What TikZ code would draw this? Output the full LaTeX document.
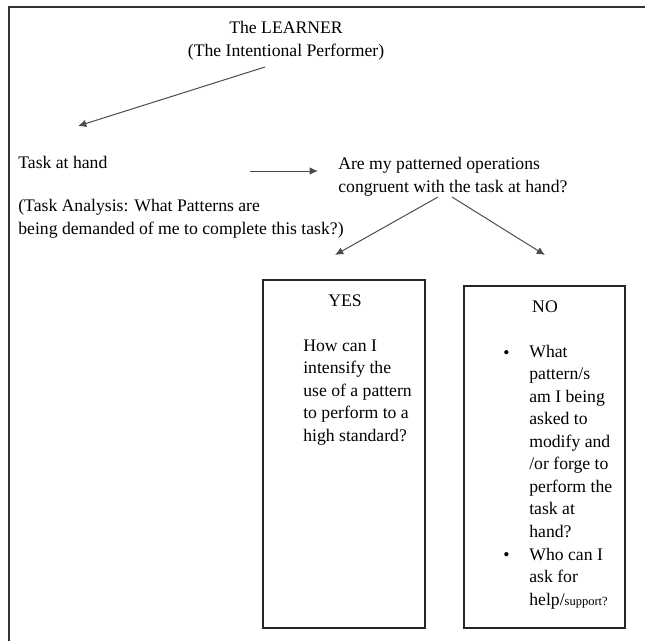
\documentclass[tikz,border=0pt]{standalone}
\usepackage{fontspec}
\setmainfont{Liberation Serif}
\usetikzlibrary{arrows.meta}
\begin{document}
\begin{tikzpicture}[x=0.6pt,y=-0.6pt,
  txt/.style={inner sep=0pt, anchor=base west, align=left, font=\fontsize{10.6}{13.5}\selectfont},
  ctr/.style={inner sep=0pt, anchor=base, align=center, font=\fontsize{10.6}{13.5}\selectfont},
  panel/.style={draw=black!85, line width=0.8pt, inner sep=0pt},
  arr/.style={draw=black!70, line width=0.6pt, -{Latex[length=5pt,width=4.5pt]}},
  frame/.style={draw=black!80, line width=1.3pt}]
\useasboundingbox (0,0) rectangle (645,641);
% outer frame (top and left edges)
\draw[frame] (9,641) -- (9,7) -- (645,7);

% texts (base anchors sit on the last line of each block)
\node[ctr] (learner) at (286,56) {The LEARNER\\(The Intentional Performer)};
\node[txt] (task) at (18,168) {Task at hand};
\node[txt] (question) at (338,192) {Are my patterned operations\\congruent with the task at hand?};
\node[txt] (analysis) at (18,234) {(Task Analysis: What Patterns are\\being demanded of me to complete this task?)};

% answer panels
\node[panel, minimum width=97.2pt, minimum height=208.8pt] (yes) at (344,454) {};
\node[panel, minimum width=96.6pt, minimum height=205.2pt] (no) at (544.5,457) {};

\node[ctr] (yeslabel) at (345,306) {YES};
\node[txt] (yestext) at (303,441) {How can I\\intensify the\\use of a pattern\\to perform to a\\high standard?};

\node[ctr] (nolabel) at (545,312) {NO};
\node[txt] (bulletA) at (503,358) {\textbullet};
\node[txt] (notextA) at (529,537) {What\\pattern/s\\am I being\\asked to\\modify and\\/or forge to\\perform the\\task at\\hand?};
\node[txt] (bulletB) at (503,560) {\textbullet};
\node[txt] (notextB) at (529,605) {Who can I\\ask for\\help/{\fontsize{7.5}{9}\selectfont support?}};

% connectors
\coordinate (l1) at (265,67);
\coordinate (l2) at (78,126);
\coordinate (t1) at (250,171);
\coordinate (t2) at (318,171);
\coordinate (q1) at (438,197);
\coordinate (q2) at (335,255);
\coordinate (q3) at (452,197);
\coordinate (q4) at (545,255);
\draw[arr] (l1) -- (l2);
\draw[arr] (t1) -- (t2);
\draw[arr] (q1) -- (q2);
\draw[arr] (q3) -- (q4);
\end{tikzpicture}
\end{document}
